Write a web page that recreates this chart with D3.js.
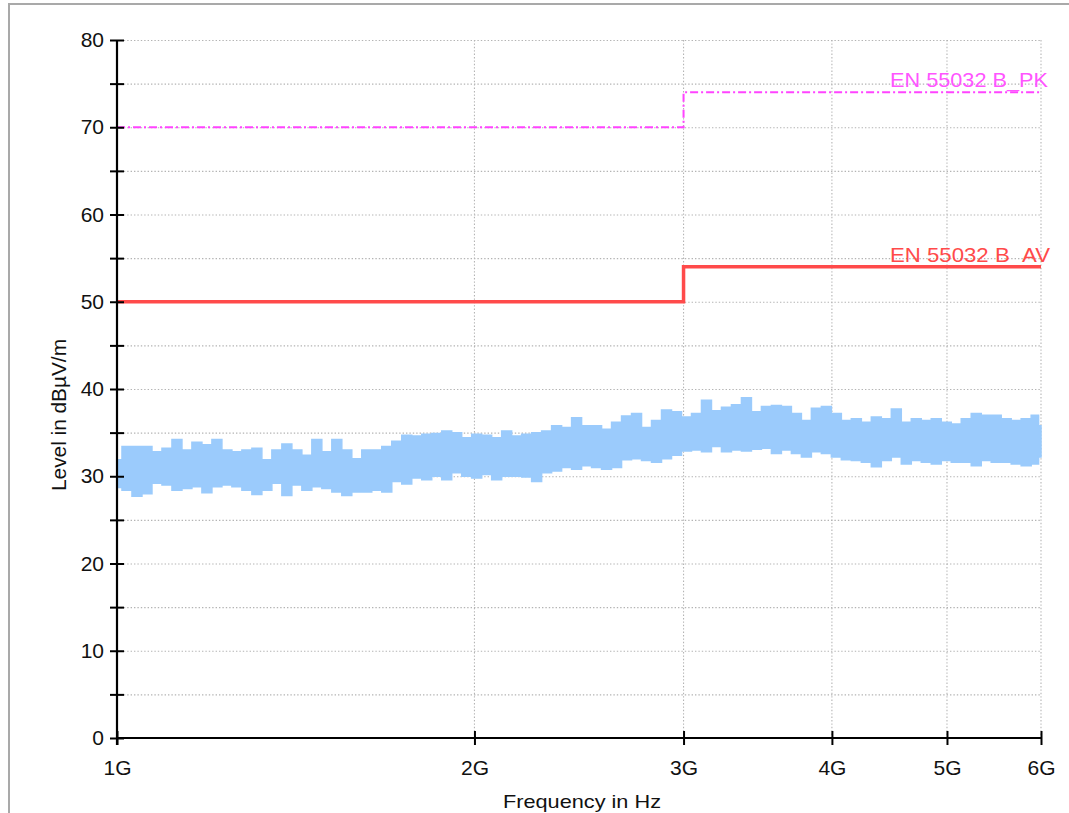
<!DOCTYPE html>
<html>
<head>
<meta charset="utf-8">
<script src="https://cdn.jsdelivr.net/npm/d3@7"></script>
<style>
  html, body { margin: 0; padding: 0; background: #fff; }
  svg { display: block; font-family: "Liberation Sans", Arial, sans-serif; }
</style>
</head>
<body>
<svg id="chart" width="1069" height="813"></svg>
<script>
// ---------- data ----------
const yMajorTicks = [0, 10, 20, 30, 40, 50, 60, 70, 80];
const yMinorTicks = [5, 15, 25, 35, 45, 55, 65, 75];
const xTicks = [1e9, 2e9, 3e9, 4e9, 5e9, 6e9];
const xTickLabels = ["1G", "2G", "3G", "4G", "5G", "6G"];
const xGridTicks = [2e9, 3e9, 4e9, 5e9, 6e9];

// limit lines (frequency in GHz, level in dBµV/m)
const limitFreqGHz = [1, 3, 3, 6];
const pkLevels = [70, 70, 74, 74];
const avLevels = [50, 50, 54, 54];
const pkName = "EN 55032 B_PK";
const avName = "EN 55032 B_AV";

const traceFreqGHz = [1.000,1.0195,1.0395,1.0598,1.0806,1.1017,1.1233,1.1452,1.1676,1.1905,
  1.2138,1.2375,1.2617,1.2864,1.3116,1.3372,1.3634,1.3901,1.4173,1.4450,
  1.4733,1.5021,1.5315,1.5614,1.5920,1.6231,1.6549,1.6873,1.7203,1.7539,
  1.7883,1.8232,1.8589,1.8953,1.9323,1.9701,2.0087,2.0480,2.0880,2.1289,
  2.1705,2.2130,2.2563,2.3004,2.3454,2.3913,2.4381,2.4858,2.5344,2.5840,
  2.6345,2.6861,2.7386,2.7922,2.8468,2.9025,2.9593,3.0172,3.0762,3.1364,
  3.1977,3.2603,3.3241,3.3891,3.4554,3.5230,3.5919,3.6622,3.7338,3.8069,
  3.8813,3.9573,4.0347,4.1136,4.1941,4.2761,4.3598,4.4451,4.5320,4.6207,
  4.7111,4.8032,4.8972,4.9930,5.0907,5.1903,5.2918,5.3953,5.5009,5.6085,
  5.7182,5.8301,5.9442,6.000];
const traceHigh = [31.9,33.4,33.4,33.4,32.8,33.2,34.2,33.0,33.9,33.6,
  34.2,33.0,32.8,33.0,33.2,31.9,33.0,33.7,33.0,32.4,
  34.2,32.8,34.2,33.0,32.0,33.0,33.0,33.4,34.0,34.7,
  34.6,34.8,34.9,35.2,35.0,34.4,34.8,34.7,34.4,35.2,
  34.6,34.8,35.0,35.2,35.8,35.6,36.7,35.8,35.8,35.4,
  36.2,36.9,37.2,35.6,36.4,37.6,37.4,36.8,37.2,38.7,
  37.5,37.9,38.2,39.0,37.4,38.0,38.1,38.0,37.2,36.4,
  37.8,38.0,37.2,36.4,36.6,36.2,36.8,36.6,37.7,36.2,
  36.6,36.4,36.6,36.2,36.0,36.6,37.2,37.0,37.0,36.6,
  36.4,36.6,37.0,35.8];
const traceLow = [28.7,28.4,27.7,28.0,29.2,29.0,28.4,28.6,28.8,28.1,
  28.8,29.0,28.8,28.4,27.9,28.4,29.2,27.8,29.0,28.4,
  28.8,28.6,28.2,27.8,28.2,28.2,28.4,28.2,29.4,29.1,
  29.8,29.6,30.0,29.6,30.4,30.0,29.8,30.2,29.6,30.0,
  30.0,29.9,29.4,30.4,30.6,31.0,30.8,31.2,31.0,30.8,
  31.0,31.9,32.0,31.8,31.6,32.0,32.4,32.9,33.0,32.8,
  33.4,32.8,33.0,32.9,33.1,33.2,32.6,33.0,32.6,32.2,
  32.8,32.6,32.2,31.9,31.8,31.6,31.1,31.8,32.2,31.4,
  31.8,31.6,31.4,31.8,31.6,31.6,31.2,31.8,31.6,31.6,
  31.4,31.2,31.4,32.2];

// ---------- chart ----------
const svg = d3.select("#chart");
const pLeft = 117, pRight = 1041, pTop = 40, pBottom = 738;

const x = d3.scaleLog().domain([1e9, 6e9]).range([pLeft, pRight]);
const y = d3.scaleLinear().domain([0, 80]).range([pBottom, pTop]);

// outer frame
svg.append("rect").attr("x", 9).attr("y", 4).attr("width", 1100).attr("height", 900)
  .attr("fill", "none").attr("stroke", "#a9a9a9").attr("stroke-width", 2);

// grid
const grid = svg.append("g").attr("stroke", "#b4b4b4").attr("stroke-width", 1.1)
  .attr("stroke-dasharray", "1.4,2");
grid.selectAll("line.h").data(yMajorTicks.concat(yMinorTicks).filter(d => d > 0)).enter()
  .append("line").attr("class", "h")
  .attr("x1", pLeft).attr("x2", pRight)
  .attr("y1", d => y(d) + 0.5).attr("y2", d => y(d) + 0.5);
grid.selectAll("line.v").data(xGridTicks).enter()
  .append("line").attr("class", "v")
  .attr("x1", d => x(d)).attr("x2", d => x(d))
  .attr("y1", pTop).attr("y2", pBottom);

// clip
svg.append("clipPath").attr("id", "plotclip").append("rect")
  .attr("x", pLeft).attr("y", pTop).attr("width", pRight - pLeft + 6).attr("height", pBottom - pTop);

// trace
const traceData = traceFreqGHz.map((f, i) => ({ f: f * 1e9, hi: traceHigh[i], lo: traceLow[i] }));
const area = d3.area()
  .x(d => x(d.f))
  .y0(d => y(d.lo))
  .y1(d => y(d.hi))
  .curve(d3.curveStep);
svg.append("path").datum(traceData)
  .attr("clip-path", "url(#plotclip)")
  .attr("d", area)
  .attr("fill", "#9bcbfc")
  .attr("stroke", "#9bcbfc")
  .attr("stroke-width", 1.5);

// limit lines
const lim = (levels) => limitFreqGHz.map((f, i) => [f * 1e9, levels[i]]);
const line = d3.line().x(d => x(d[0])).y(d => y(d[1]));
svg.append("path").datum(lim(pkLevels)).attr("d", line)
  .attr("fill", "none").attr("stroke", "#ff44ff").attr("stroke-width", 2)
  .attr("stroke-dasharray", "8,3,2,3");
svg.append("path").datum(lim(avLevels)).attr("d", line)
  .attr("fill", "none").attr("stroke", "#ff4a4a").attr("stroke-width", 3.5);

// limit labels
svg.append("text").attr("x", 1048).attr("y", y(pkLevels[3]) - 5)
  .attr("text-anchor", "end").attr("font-size", 21).attr("fill", "#ff55ff")
  .attr("textLength", 158).attr("lengthAdjust", "spacingAndGlyphs").text(pkName);
svg.append("text").attr("x", 1050).attr("y", y(avLevels[3]) - 5)
  .attr("text-anchor", "end").attr("font-size", 21).attr("fill", "#ff4a4a")
  .attr("textLength", 160).attr("lengthAdjust", "spacingAndGlyphs").text(avName);

// y axis
const yAxis = d3.axisLeft(y)
  .tickValues(yMajorTicks.concat(yMinorTicks).sort((a, b) => a - b))
  .tickSize(7).tickPadding(6)
  .tickFormat(d => yMajorTicks.includes(d) ? d : "");
const gy = svg.append("g").attr("transform", `translate(${pLeft},0)`).call(yAxis);
gy.select(".domain").attr("stroke", "#000").attr("stroke-width", 2.2)
  .attr("d", `M0,${pTop}V${pBottom + 7}`);
gy.selectAll(".tick line").attr("x1", -7).attr("x2", 7).attr("stroke", "#000").attr("stroke-width", 2);
gy.selectAll(".tick text").attr("font-size", 21).attr("fill", "#111")
  .attr("font-family", "Liberation Sans, Arial, sans-serif");

// x axis
const xAxis = d3.axisBottom(x)
  .tickValues(xTicks)
  .tickSize(7).tickPadding(15)
  .tickFormat((d, i) => xTickLabels[i]);
const gx = svg.append("g").attr("transform", `translate(0,${pBottom})`).call(xAxis);
gx.select(".domain").attr("stroke", "#000").attr("stroke-width", 2.2)
  .attr("d", `M${pLeft},0H${pRight}`);
gx.selectAll(".tick line").attr("y1", -7).attr("y2", 7).attr("stroke", "#000").attr("stroke-width", 2);
gx.selectAll(".tick text").attr("font-size", 21).attr("fill", "#111")
  .attr("font-family", "Liberation Sans, Arial, sans-serif");

// axis titles
svg.append("text").attr("x", (pLeft + pRight) / 2 + 3).attr("y", 808)
  .attr("text-anchor", "middle").attr("font-size", 19).attr("fill", "#111")
  .attr("textLength", 158).attr("lengthAdjust", "spacingAndGlyphs")
  .text("Frequency in Hz");
svg.append("text").attr("transform", "translate(66,415) rotate(-90)")
  .attr("text-anchor", "middle").attr("font-size", 20).attr("fill", "#111")
  .attr("textLength", 152).attr("lengthAdjust", "spacingAndGlyphs")
  .text("Level in dBµV/m");
</script>
</body>
</html>
